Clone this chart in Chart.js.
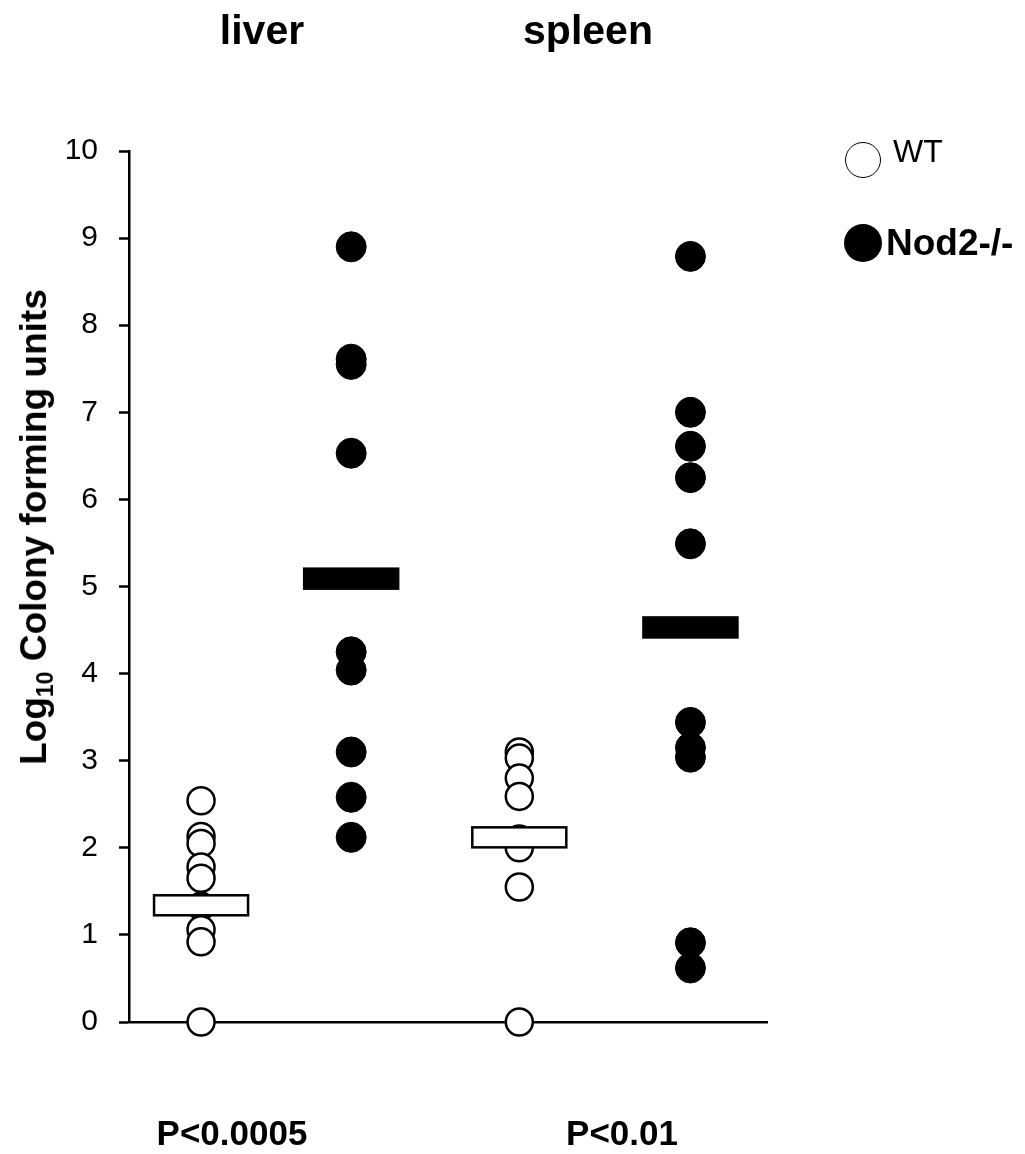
<!DOCTYPE html>
<html>
<head>
<meta charset="utf-8">
<script src="https://cdn.jsdelivr.net/npm/chart.js@4.4.1/dist/chart.umd.min.js"></script>
<style>
  body { margin: 0; background: #fff; font-family: Arial, "Liberation Sans", sans-serif; }
  #wrap { position: relative; width: 1025px; height: 1154px; }
  .lbl { position: absolute; color: #000; white-space: nowrap; transform: translate(-50%, -50%); }
  .b { font-weight: bold; }
  #ytitle { position: absolute; left: 36px; top: 527px; font-weight: bold; font-size: 37px;
            transform: translate(-50%, -50%) rotate(-90deg); white-space: nowrap; }
  #ytitle sub { font-size: 23px; vertical-align: -7px; }
  .key { position: absolute; border-radius: 50%; box-sizing: border-box; }
  .keytext { position: absolute; transform: translateY(-50%); white-space: nowrap; }
</style>
</head>
<body>
<div id="wrap">
  <canvas id="chart"></canvas>
  <div class="lbl b" style="left:262px; top:30px; font-size:41px;">liver</div>
  <div class="lbl b" style="left:588px; top:30px; font-size:41px;">spleen</div>
  <div class="lbl b" style="left:232px; top:1133px; font-size:35px;">P&lt;0.0005</div>
  <div class="lbl b" style="left:622px; top:1133px; font-size:35px;">P&lt;0.01</div>
  <div id="ytitle">Log<sub>10</sub> Colony forming units</div>
  <div class="key" style="left:845px; top:142px; width:36px; height:36px; border:1.5px solid #000; background:#fff;"></div>
  <div class="keytext" style="left:893px; top:151px; font-size:32px;">WT</div>
  <div class="key" style="left:844px; top:224px; width:38px; height:38px; background:#000;"></div>
  <div class="keytext b" style="left:886px; top:243px; font-size:37px;">Nod2-/-</div>
</div>
<script>
// group positions on the (hidden) x axis: liver WT, liver Nod2, spleen WT, spleen Nod2
const groupX = [1, 2, 3.12, 4.26];

// Log10 CFU
const liverWT = [2.54, 2.13, 2.05, 1.78, 1.65, 1.33, 1.06, 0.92, 0];
const liverNod2 = [8.9, 7.61, 7.55, 6.53, 4.25, 4.04, 3.1, 2.58, 2.12];
const spleenWT = [3.1, 3.03, 2.8, 2.59, 2.1, 2.0, 1.55, 0];
const spleenNod2 = [8.79, 7.0, 6.61, 6.25, 5.49, 3.44, 3.15, 3.04, 0.91, 0.62];

// mean bars
const meansWT = [1.34, 2.12];
const meansNod2 = [5.09, 4.53];

const yTicks = [0, 1, 2, 3, 4, 5, 6, 7, 8, 9, 10];

function pts(x, vals) {
  return vals.map(v => ({ x: x, y: v }));
}

const wtStyle = {
  backgroundColor: "#fff",
  borderColor: "#000",
  borderWidth: 2.5,
  pointRadius: 13.5,
  pointHoverRadius: 13.5,
  clip: false
};
const koStyle = {
  backgroundColor: "#000",
  borderColor: "#000",
  borderWidth: 1,
  pointRadius: 15,
  pointHoverRadius: 15,
  clip: false
};

// draws the mean boxes at the group positions
const meanBars = {
  id: "meanBars",
  afterDatasetsDraw(chart) {
    const ctx = chart.ctx;
    const xs = chart.scales.x, ys = chart.scales.y;
    const w = 94, h = 20;
    const bars = [
      { x: groupX[0], y: meansWT[0], fill: "#fff" },
      { x: groupX[1], y: meansNod2[0], fill: "#000" },
      { x: groupX[2], y: meansWT[1], fill: "#fff" },
      { x: groupX[3], y: meansNod2[1], fill: "#000" }
    ];
    ctx.save();
    bars.forEach(b => {
      const cx = xs.getPixelForValue(b.x);
      const cy = ys.getPixelForValue(b.y);
      ctx.fillStyle = b.fill;
      ctx.fillRect(cx - w / 2, cy - h / 2, w, h);
      ctx.lineWidth = 2.5;
      ctx.strokeStyle = "#000";
      ctx.strokeRect(cx - w / 2, cy - h / 2, w, h);
    });
    ctx.restore();
  }
};

new Chart(document.getElementById("chart"), {
  type: "scatter",
  data: {
    datasets: [
      Object.assign({ label: "WT liver", data: pts(groupX[0], liverWT) }, wtStyle),
      Object.assign({ label: "Nod2-/- liver", data: pts(groupX[1], liverNod2) }, koStyle),
      Object.assign({ label: "WT spleen", data: pts(groupX[2], spleenWT) }, wtStyle),
      Object.assign({ label: "Nod2-/- spleen", data: pts(groupX[3], spleenNod2) }, koStyle)
    ]
  },
  options: {
    responsive: true,
    maintainAspectRatio: false,
    animation: false,
    layout: { padding: { top: 151, right: 258, bottom: 132, left: 0 } },
    plugins: { legend: { display: false }, tooltip: { enabled: false } },
    scales: {
      x: {
        type: "linear",
        min: 0.52,
        max: 4.77,
        ticks: { display: false },
        grid: { display: false },
        border: { display: true, color: "#000", width: 2.5 },
        afterFit: s => { s.height = 0; }
      },
      y: {
        min: 0,
        max: 10,
        afterBuildTicks: s => { s.ticks = yTicks.map(v => ({ value: v })); },
        ticks: {
          color: "#000",
          padding: 21,
          font: { family: "Arial, 'Liberation Sans', sans-serif", size: 30 }
        },
        grid: { drawOnChartArea: false, tickLength: 10, tickWidth: 2.5, color: "#000" },
        border: { display: true, color: "#000", width: 2.5 },
        afterFit: s => { s.width = 129; }
      }
    }
  },
  plugins: [meanBars]
});
</script>
</body>
</html>
